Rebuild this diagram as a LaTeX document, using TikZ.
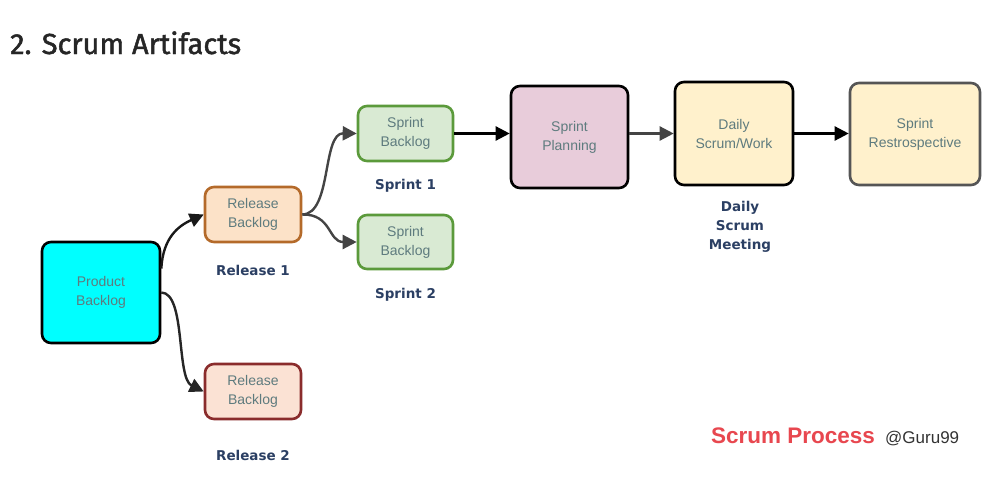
\documentclass[tikz,border=0pt]{standalone}
\usepackage{fontspec}
\setmainfont{Liberation Sans}
\newfontfamily\titlefont[FakeBold=1.6]{Fira Sans}
\newfontfamily\labfont{DejaVu Sans}
\usetikzlibrary{arrows.meta}
\definecolor{nodetext}{HTML}{5E7B7E}
\definecolor{labblue}{HTML}{2B3F63}
\definecolor{cyanfill}{HTML}{00FFFF}
\definecolor{peach}{HTML}{FCE2C8}
\definecolor{peach2}{HTML}{FBE2D4}
\definecolor{orangeb}{HTML}{B46A2A}
\definecolor{redb}{HTML}{8A2C2C}
\definecolor{greenf}{HTML}{D9EAD3}
\definecolor{greenb}{HTML}{5B9A3B}
\definecolor{pinkf}{HTML}{E8CCDA}
\definecolor{yellowf}{HTML}{FFF1CC}
\definecolor{grayb}{HTML}{555555}
\definecolor{redtxt}{HTML}{E8474F}
\definecolor{arrgray}{HTML}{444444}
\tikzset{
  box/.style={draw, rounded corners=9pt, line width=2.6pt, align=center,
    text=nodetext, font=\fontsize{14}{19}\selectfont, inner sep=0pt},
  lab/.style={text=labblue, font=\labfont\bfseries\fontsize{13.5}{19}\selectfont, align=center},
  conn/.style={line width=2.4pt, -{Triangle[length=14pt,width=14pt]}},
}
\begin{document}
\begin{tikzpicture}[x=1pt,y=-1pt]
\useasboundingbox[fill=white] (0,0) rectangle (991,479);
\node[anchor=base west, inner sep=0pt, font=\titlefont\fontsize{29}{30}\selectfont, text=black!85] (title) at (10,54) {2. Scrum Artifacts};

\node[box, fill=cyanfill, draw=black, minimum width=118pt, minimum height=101pt] (pb) at (101,292.5) {Product\\Backlog};
\node[box, fill=peach, draw=orangeb, minimum width=96pt, minimum height=55pt] (r1) at (253,214.5) {Release\\Backlog};
\node[box, fill=peach2, draw=redb, minimum width=96pt, minimum height=55pt] (r2) at (253,391.5) {Release\\Backlog};
\node[box, fill=greenf, draw=greenb, minimum width=95pt, minimum height=55pt] (s1) at (405.5,133.5) {Sprint\\Backlog};
\node[box, fill=greenf, draw=greenb, minimum width=95pt, minimum height=54pt] (s2) at (405.5,242) {Sprint\\Backlog};
\node[box, fill=pinkf, draw=black, minimum width=117pt, minimum height=102pt] (sp) at (569.5,137) {Sprint\\Planning};
\node[box, fill=yellowf, draw=black, minimum width=118pt, minimum height=103pt] (ds) at (734,133.5) {Daily\\Scrum/Work};
\node[box, fill=yellowf, draw=grayb, minimum width=130pt, minimum height=102pt] (rt) at (915,134) {Sprint\\Restrospective};

\node[lab] (l1) at (253,270) {Release 1};
\node[lab] (l2) at (253,455) {Release 2};
\node[lab] (l3) at (405.5,186) {Sprint 1};
\node[lab] (l4) at (405.5,295) {Sprint 2};
\node[lab] (l5) at (740,227) {Daily\\Scrum\\Meeting};

\node[anchor=base west, inner sep=0pt, text=redtxt, font=\bfseries\fontsize{22.5}{24}\selectfont] (sc) at (711,443) {Scrum Process};
\node[anchor=base west, inner sep=0pt, text=black!80, font=\fontsize{17}{20}\selectfont] (gu) at (885,443) {@Guru99};

\draw[conn, draw=black!90] ([yshift=24pt]pb.east) .. controls (163,238) and (178,226) .. (r1.west);
\draw[conn, draw=black!85] (pb.east) .. controls (186,293) and (176,378) .. (r2.west);
\draw[conn, draw=arrgray] (r1.east) .. controls (332,214) and (322,133) .. (s1.west);
\draw[conn, draw=arrgray] (r1.east) .. controls (332,214) and (328,242) .. (s2.west);
\draw[conn, draw=black] (s1.east) -- (s1.east -| sp.west);
\draw[conn, draw=arrgray] (sp.east |- ds.west) -- (ds.west);
\draw[conn, draw=black] (ds.east) -- (ds.east -| rt.west);
\end{tikzpicture}
\end{document}
